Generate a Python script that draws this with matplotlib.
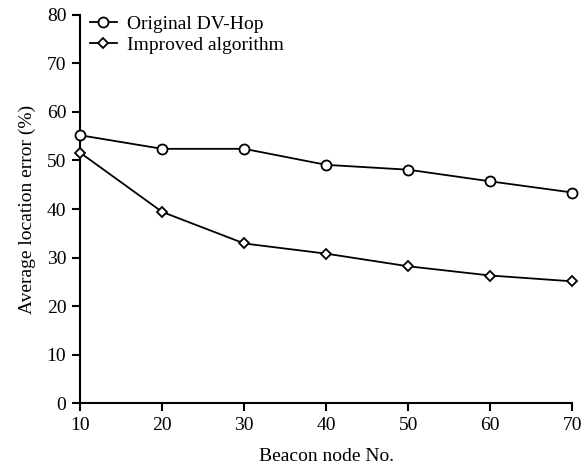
import matplotlib
matplotlib.use("Agg")
import matplotlib.pyplot as plt

beacons = [10, 20, 30, 40, 50, 60, 70]
original = [55.2, 52.4, 52.4, 49.1, 48.1, 45.7, 43.4]
improved = [51.6, 39.4, 32.9, 30.8, 28.2, 26.3, 25.1]
xticks = [10, 20, 30, 40, 50, 60, 70]
yticks = [0, 10, 20, 30, 40, 50, 60, 70, 80]

plt.rcParams['font.family'] = ['Liberation Serif', 'DejaVu Serif']
fig = plt.figure(figsize=(5.81, 4.65), dpi=100)
ax = fig.add_axes([0.138, 0.133, 0.847, 0.835])

ax.plot(beacons, original, color='black', lw=1.3, marker='o', ms=7.2,
        mfc='white', mec='black', mew=1.3, label='Original DV-Hop', clip_on=False, zorder=3)
ax.plot(beacons, improved, color='black', lw=1.3, marker='D', ms=5.2,
        mfc='white', mec='black', mew=1.3, label='Improved algorithm', clip_on=False, zorder=3)

ax.set_xlim(10, 70)
ax.set_ylim(0, 80)
ax.set_xticks(xticks)
ax.set_yticks(yticks)
for s in ['top', 'right']:
    ax.spines[s].set_visible(False)
for s in ['left', 'bottom']:
    ax.spines[s].set_linewidth(1.5)
ax.tick_params(direction='out', length=6, width=1.5, labelsize=14, pad=4)
ax.set_xlabel('Beacon node No.', fontsize=14, labelpad=10)
ax.set_ylabel('Average location error (%)', fontsize=14, labelpad=8)

ax.legend(loc='upper left', bbox_to_anchor=(-0.008, 1.035), frameon=False, fontsize=14,
          handlelength=1.4, handletextpad=0.5, labelspacing=0.2, borderaxespad=0.3)

fig.savefig('out.png', dpi=100)
